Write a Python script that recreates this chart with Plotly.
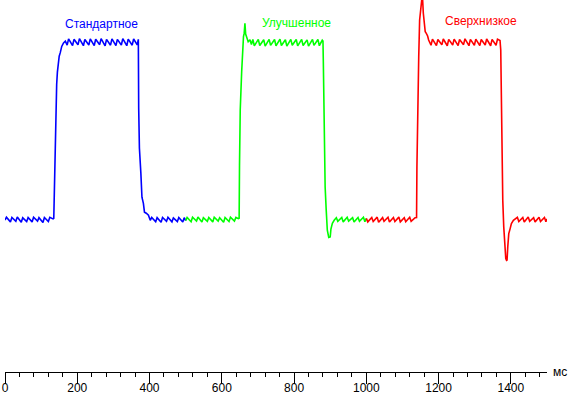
import plotly.graph_objects as go

# ---- data (ms, relative brightness %) ----
t_standard = [0, 4, 15, 19, 30, 34, 45, 49, 60, 64, 75, 79, 90, 94, 105, 109, 120, 124, 133,
              135, 136, 139, 141.5, 143, 145, 147, 150, 153, 157, 162, 167,
              172, 176, 187, 191, 202, 206, 217, 221, 232, 236, 247, 251, 262, 266, 277, 281,
              292, 296, 307, 311, 322, 326, 337, 341, 352, 356, 366, 369,
              370, 372, 376, 379, 383, 386, 391, 397, 402,
              406, 417, 421, 432, 436, 447, 451, 462, 466, 477, 481, 492, 496, 500]
v_standard = [-0.5, 1.1, -1.5, 1.0, -1.2, 1.2, -1.7, 0.8, -1.3, 1.0, -1.5, 1.1, -1.1, 0.9, -1.8, 1.0, -1.3, 1.1, 0.2,
              0.5, 10, 42, 63, 76, 83, 88, 92, 94, 97.5, 99.5, 100.5,
              98.2, 101.8, 98.0, 101.5, 98.4, 101.9, 97.9, 101.4, 98.3, 101.8, 98.0, 101.6, 98.5, 101.9, 97.8, 101.5,
              98.2, 101.8, 98.0, 101.5, 98.3, 101.9, 97.9, 101.6, 98.2, 101.7, 98.4, 101.5,
              62.7, 40, 26, 12.4, 9, 4, 3.4, 2.3, -0.6,
              1.0, -1.4, 0.9, -1.7, 1.0, -1.2, 1.1, -1.5, 0.8, -1.3, 1.0, -1.6, 0.9, -0.8]

t_improved = [500, 504, 515, 519, 530, 534, 545, 549, 560, 564, 575, 579, 590, 594, 605, 609, 620, 624, 635, 639, 646,
              648, 649, 651, 655, 657.5, 660, 662, 664, 666, 668.5, 673, 678, 682,
              686, 690, 701, 705, 716, 720, 731, 735, 746, 750, 761, 765, 776, 780, 791, 795, 806, 810,
              821, 825, 836, 840, 851, 855, 866, 870, 878,
              880, 881, 883, 886, 889, 892, 896, 900, 902, 906, 911, 917,
              921, 932, 936, 947, 951, 962, 966, 977, 981, 992, 996, 1000]
v_improved = [-0.8, 1.0, -1.4, 1.1, -1.0, 1.2, -1.6, 0.9, -1.2, 1.0, -1.5, 1.1, -1.1, 0.8, -1.7, 1.0, -1.3, 1.2, -1.0, 1.0, 0.3,
              0.5, 30.5, 61.6, 83.2, 95.5, 103, 105, 110.6, 104.5, 102.5, 100.2, 101.3, 98.6,
              101.4, 97.8, 101.5, 98.0, 101.3, 97.7, 101.5, 98.1, 101.4, 97.8, 101.6, 98.0, 101.3, 97.7, 101.5, 98.2, 101.4, 97.8,
              101.5, 98.0, 101.2, 97.7, 101.5, 98.1, 101.4, 97.9, 101.0,
              100.5, 88.9, 40.8, 18.2, 5, -6.2, -10.3, -10.0, -5.6, -2.3, -0.6, 0.8,
              -1.2, 1.0, -1.5, 1.1, -1.1, 0.9, -1.6, 1.0, -1.2, 1.1, -1.4, 0.5]

t_ultralow = [1000, 1004, 1015, 1019, 1030, 1034, 1045, 1049, 1060, 1064, 1075, 1079, 1090, 1094, 1105, 1109, 1120, 1124, 1135,
              1139, 1140, 1142, 1145, 1147.5, 1151, 1153, 1155, 1157.7, 1160.4, 1163, 1166, 1169.6, 1172.4, 1175,
              1179, 1183, 1194, 1198, 1209, 1213, 1224, 1228, 1239, 1243, 1254, 1258, 1269, 1273, 1284, 1288,
              1299, 1303, 1314, 1318, 1329, 1333, 1344, 1348, 1359, 1363, 1370,
              1372, 1374.8, 1377.6, 1380.3, 1383.1, 1385.9, 1388, 1389.5, 1391.4, 1394.2, 1398, 1401.5, 1407, 1413.5,
              1418, 1422, 1433, 1437, 1448, 1452, 1463, 1467, 1478, 1482, 1493, 1497, 1500]
v_ultralow = [0.5, -1.5, 1.0, -1.3, 1.2, -1.7, 0.9, -1.2, 1.1, -1.6, 1.0, -1.3, 1.2, -1.5, 0.8, -1.4, 1.1, -1.2, 0.9,
              1.0, 29.5, 68.2, 91.7, 112.4, 121, 127, 127, 116.2, 108.6, 105.8, 104.9, 103.4, 101.1, 99.6,
              98.2, 101.6, 98.0, 101.4, 98.4, 101.7, 97.9, 101.5, 98.3, 101.6, 98.0, 101.4, 98.5, 101.8, 97.9, 101.5,
              98.2, 101.6, 98.0, 101.4, 98.3, 101.7, 97.9, 101.5, 98.2, 101.6, 100.8,
              95.5, 36.2, 10.7, -4.3, -15.6, -22.2, -23.2, -23.0, -15.6, -8.1, -5.3, -2.4, -0.6, 0.4,
              1.1, -1.3, 1.0, -1.6, 1.2, -1.2, 0.9, -1.5, 1.1, -1.3, 1.0, -1.4, 0.2]

series_names = ["Стандартное", "Улучшенное", "Сверхнизкое"]
series_colors = ["#0000FF", "#00FF00", "#FF0000"]
label_x = [268, 807, 1316]
label_y = [109.9, 110.7, 112.1]

tick_vals = [0, 200, 400, 600, 800, 1000, 1200, 1400]
tick_text = ["0", "200", "400", "600", "800", "1000", "1200", "1400"]
x_unit = "мс"

FONT = "Arial, Liberation Sans, sans-serif"

fig = go.Figure()
for t, v, name, col in zip([t_standard, t_improved, t_ultralow],
                           [v_standard, v_improved, v_ultralow],
                           series_names, series_colors):
    fig.add_trace(go.Scatter(x=t, y=v, mode="lines", name=name,
                             line=dict(color=col, width=1.6), hoverinfo="skip"))

for name, col, lx, ly in zip(series_names, series_colors, label_x, label_y):
    fig.add_annotation(x=lx, y=ly, xref="x", yref="y", text=name, showarrow=False,
                       font=dict(family=FONT, size=12, color=col),
                       xanchor="center", yanchor="middle")

fig.add_annotation(x=1, y=0, xref="paper", yref="paper", text=x_unit, showarrow=False,
                   xanchor="left", yanchor="middle", xshift=4,
                   font=dict(family=FONT, size=12, color="black"))

fig.update_layout(
    width=569, height=396,
    margin=dict(l=5, r=22, t=0, b=24, autoexpand=False),
    paper_bgcolor="white", plot_bgcolor="white",
    showlegend=False,
    hovermode=False,
    xaxis=dict(range=[0, 1500], showgrid=False, zeroline=False, automargin=False,
               showline=True, linecolor="black", linewidth=1,
               ticks="outside", ticklen=11, tickwidth=1, tickcolor="black",
               ticklabelstandoff=-6,
               tickvals=tick_vals, ticktext=tick_text,
               tickfont=dict(family=FONT, size=12, color="black"),
               minor=dict(dtick=40, tick0=0, ticks="outside", ticklen=4,
                          tickcolor="black", tickwidth=1, showgrid=False)),
    yaxis=dict(range=[-86.2, 123.7], visible=False, showgrid=False, zeroline=False),
)

fig.write_html("out.html", config={"displayModeBar": False, "staticPlot": True},
               post_script="document.body.style.margin='0';document.body.style.overflow='hidden';")
